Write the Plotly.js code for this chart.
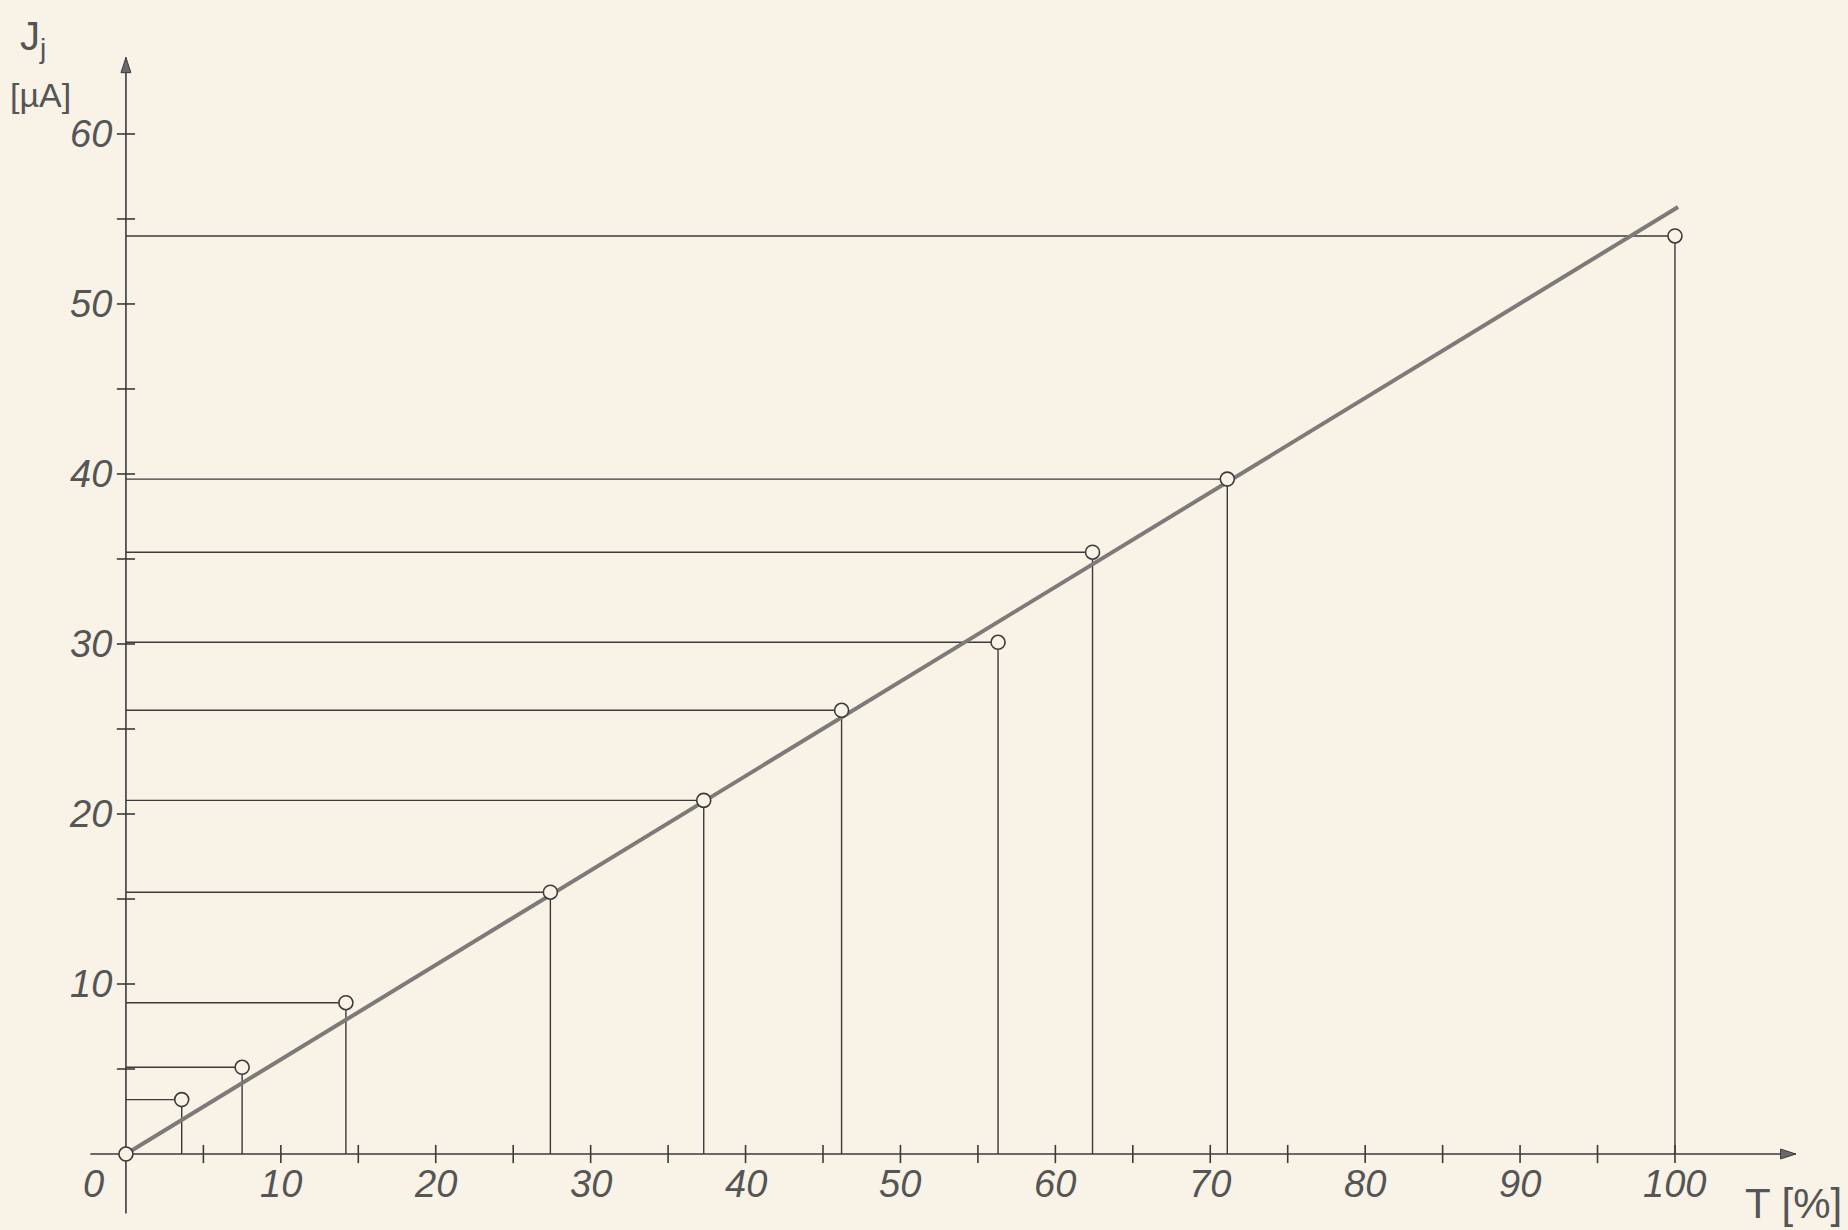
<!DOCTYPE html>
<html>
<head>
<meta charset="utf-8">
<script src="https://cdn.plot.ly/plotly-3.0.1.min.js"></script>
<style>
  html, body { margin: 0; padding: 0; background: #f8f2e7; }
  #chart { width: 1848px; height: 1230px; }
</style>
</head>
<body>
<div id="chart"></div>
<script>
// ---- data ----
const transmission = [0, 3.6, 7.5, 14.2, 27.4, 37.3, 46.2, 56.3, 62.4, 71.1, 100];   // T [%]
const current      = [0, 3.2, 5.1, 8.9, 15.4, 20.8, 26.1, 30.1, 35.4, 39.7, 54.0];  // Jj [µA]
const fitT = [0, 100.2];
const fitJ = [0, 55.7];
const xMajorTicks = [10, 20, 30, 40, 50, 60, 70, 80, 90, 100];
const xMinorTicks = [5, 15, 25, 35, 45, 55, 65, 75, 85, 95];
const yMajorTicks = [10, 20, 30, 40, 50, 60];
const yMinorTicks = [5, 15, 25, 35, 45, 55];
const xAxisExtent = [-2.3, 107.8];
const yAxisExtent = [-3.5, 64.5];

// ---- style ----
const ink = '#3b3b3b';
const paper = '#f8f2e7';
const fam = 'Liberation Sans Narrow, Liberation Sans, DejaVu Sans';
const labelFont = {family: fam, size: 38, color: '#555', style: 'italic'};

// drop lines built from the data
const dropX = [], dropY = [];
transmission.forEach((t, i) => {
  if (t === 0 && current[i] === 0) return;
  dropX.push(0, t, t, null);
  dropY.push(current[i], current[i], 0, null);
});

const traces = [
  {x: dropX, y: dropY, mode: 'lines', line: {color: ink, width: 1.4}, hoverinfo: 'skip', showlegend: false},
  // axes
  {x: xAxisExtent, y: [0, 0], mode: 'lines', line: {color: ink, width: 1.6}, hoverinfo: 'skip', showlegend: false},
  {x: [0, 0], y: yAxisExtent, mode: 'lines', line: {color: ink, width: 1.6}, hoverinfo: 'skip', showlegend: false},
  // arrowheads
  {x: [xAxisExtent[1]], y: [0], mode: 'markers', marker: {symbol: 'arrow', angle: 90, size: 16, color: '#6a6a6a', line: {color: ink, width: 1}},
   hoverinfo: 'skip', showlegend: false},
  {x: [0], y: [yAxisExtent[1]], mode: 'markers', marker: {symbol: 'arrow', angle: 0, size: 16, color: '#6a6a6a', line: {color: ink, width: 1}},
   hoverinfo: 'skip', showlegend: false},
  // ticks
  {x: xMajorTicks.concat(xMinorTicks), y: xMajorTicks.concat(xMinorTicks).map(() => 0), mode: 'markers',
   marker: {symbol: 'line-ns', size: 13, line: {color: ink, width: 1.6}}, hoverinfo: 'skip', showlegend: false},
  {x: yMajorTicks.concat(yMinorTicks).map(() => 0), y: yMajorTicks.concat(yMinorTicks), mode: 'markers',
   marker: {symbol: 'line-ew', size: 13, line: {color: ink, width: 1.6}}, hoverinfo: 'skip', showlegend: false},
  // fitted line
  {x: fitT, y: fitJ, mode: 'lines', line: {color: '#7d7b78', width: 4}, hoverinfo: 'skip', showlegend: false},
  // measured points
  {x: transmission, y: current, mode: 'markers',
   marker: {symbol: 'circle', size: 14, color: paper, line: {color: ink, width: 1.6}}, showlegend: false}
];

const annotations = [];
xMajorTicks.forEach(v => annotations.push({x: v, y: 0, xref: 'x', yref: 'y', text: String(v), showarrow: false,
  yshift: -30, xanchor: 'center', yanchor: 'middle', font: labelFont}));
yMajorTicks.forEach(v => annotations.push({x: 0, y: v, xref: 'x', yref: 'y', text: String(v), showarrow: false,
  xshift: -12, xanchor: 'right', yanchor: 'middle', font: labelFont}));
annotations.push({x: 0, y: 0, xref: 'x', yref: 'y', text: '0', showarrow: false, xshift: -32, yshift: -30,
  xanchor: 'center', yanchor: 'middle', font: labelFont});
// axis titles
annotations.push({x: 110.9, y: -2.9, xref: 'x', yref: 'y', text: 'T [%]', showarrow: false, xanchor: 'right', yanchor: 'middle',
  font: {family: fam, size: 42, color: '#555'}});
annotations.push({x: -6.0, y: 65.6, xref: 'x', yref: 'y', text: 'J<sub>j</sub>', showarrow: false, xanchor: 'center', yanchor: 'middle',
  font: {family: fam, size: 40, color: '#555'}});
annotations.push({x: -7.6, y: 62.3, xref: 'x', yref: 'y', text: '[µA]', showarrow: false, xanchor: 'left', yanchor: 'middle',
  font: {family: fam, size: 34, color: '#555'}});

const layout = {
  width: 1848, height: 1230,
  margin: {l: 0, r: 0, t: 0, b: 0},
  paper_bgcolor: paper, plot_bgcolor: paper,
  xaxis: {range: [-8.13, 111.17], visible: false, fixedrange: true},
  yaxis: {range: [-4.47, 67.88], visible: false, fixedrange: true},
  annotations: annotations,
  showlegend: false
};

Plotly.newPlot('chart', traces, layout, {displayModeBar: false, staticPlot: true});
</script>
</body>
</html>
